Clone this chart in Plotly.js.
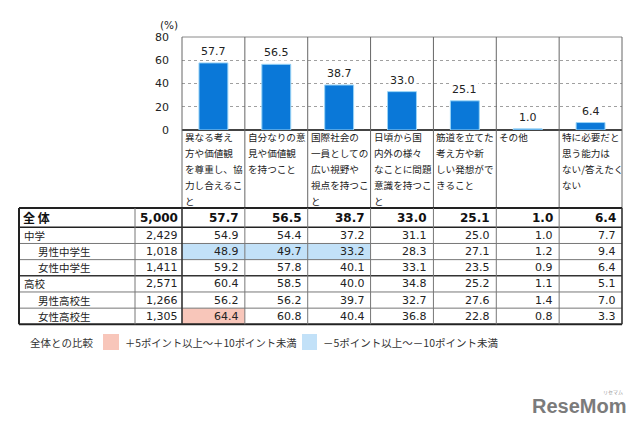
<!DOCTYPE html>
<html>
<head>
<meta charset="utf-8">
<script src="https://cdn.plot.ly/plotly-3.0.1.min.js"></script>
<style>html,body{margin:0;padding:0;background:#fff;}#chart{width:640px;height:430px;}</style>
</head>
<body>
<div id="chart"></div>
<script>
// ---------- data ----------
const categories = [
  "異なる考え方や価値観を尊重し、協力し合えること",
  "自分なりの意見や価値観を持つこと",
  "国際社会の一員としての広い視野や視点を持つこと",
  "日頃から国内外の様々なことに問題意識を持つこと",
  "筋道を立てた考え方や新しい発想ができること",
  "その他",
  "特に必要だと思う能力はない/答えたくない"
];
const categoryLines = [
  ["異なる考え", "方や価値観", "を尊重し、協", "力し合えるこ", "と"],
  ["自分なりの意", "見や価値観", "を持つこと"],
  ["国際社会の", "一員としての", "広い視野や", "視点を持つこ", "と"],
  ["日頃から国", "内外の様々", "なことに問題", "意識を持つこ", "と"],
  ["筋道を立てた", "考え方や新", "しい発想がで", "きること"],
  ["その他"],
  ["特に必要だと", "思う能力は", "ない/答えたく", "ない"]
];
const overallLabel = "全 体";
const overallN = "5,000";
const overallValues = [57.7, 56.5, 38.7, 33.0, 25.1, 1.0, 6.4];

const rowLabels = ["中学", "男性中学生", "女性中学生", "高校", "男性高校生", "女性高校生"];
const rowLevels = [1, 2, 2, 1, 2, 2];
const rowN = ["2,429", "1,018", "1,411", "2,571", "1,266", "1,305"];
const rowValues = [
  [54.9, 54.4, 37.2, 31.1, 25.0, 1.0, 7.7],
  [48.9, 49.7, 33.2, 28.3, 27.1, 1.2, 9.4],
  [59.2, 57.8, 40.1, 33.1, 23.5, 0.9, 6.4],
  [60.4, 58.5, 40.0, 34.8, 25.2, 1.1, 5.1],
  [56.2, 56.2, 39.7, 32.7, 27.6, 1.4, 7.0],
  [64.4, 60.8, 40.4, 36.8, 22.8, 0.8, 3.3]
];
const yTicks = [0, 20, 40, 60, 80];
const unitLabel = "(%)";
const legendTitle = "全体との比較";
const legendPlus = "＋5ポイント以上～＋10ポイント未満";
const legendMinus = "－5ポイント以上～－10ポイント未満";
const logoText = "ReseMom";
const logoSub = "リセマム";

// ---------- geometry ----------
const W = 640, H = 430;
const px = x => x / W;
const py = y => 1 - y / H;
const plotL = 182, plotR = 622, plotT = 37, plotB = 130;
const nCol = categories.length;
const colW = (plotR - plotL) / nCol;
const colLeft = i => plotL + i * colW;
const tableL = 19, labelR = 135, tableT = 208, headB = 227.3, rowH = 16.17;
const tableB = headB + rowH * rowLabels.length;

const JP = '"Noto Sans CJK JP", "Noto Sans", sans-serif';
const NUM = '"DejaVu Sans", "Noto Sans CJK JP", sans-serif';
const PINK = '#F8C6BA', BLUE = '#C2E1F8';

const fmt = v => v.toFixed(1);
const shapes = [];
const annotations = [];

function line(x0, y0, x1, y1, color, width, layer) {
  shapes.push({type: 'line', xref: 'paper', yref: 'paper',
    x0: px(x0), y0: py(y0), x1: px(x1), y1: py(y1),
    line: {color: color, width: width}, layer: layer || 'above'});
}
function rect(x0, y0, x1, y1, color) {
  shapes.push({type: 'rect', xref: 'paper', yref: 'paper',
    x0: px(x0), y0: py(y0), x1: px(x1), y1: py(y1),
    fillcolor: color, line: {width: 0}, layer: 'below'});
}
function text(t, x, y, anchor, font) {
  annotations.push({text: t, xref: 'paper', yref: 'paper', x: px(x), y: py(y),
    xanchor: anchor, yanchor: 'middle', showarrow: false, font: font, borderpad: 0});
}

// chart frame
line(plotL, plotT, plotR, plotT, '#8a8a8a', 1);
for (let i = 0; i <= nCol; i++) {
  line(colLeft(i), plotT, colLeft(i), tableT, '#666', 1);
}

// category labels
const lineYs = [137, 153, 169, 185, 201];
categoryLines.forEach((lines, i) => {
  lines.forEach((t, k) => {
    text(t, colLeft(i) + 2, lineYs[k], 'left', {family: JP, size: 9.6, color: '#222'});
  });
});

// bar value labels (data coords)
overallValues.forEach((v, i) => {
  annotations.push({text: fmt(v), xref: 'x', yref: 'y', x: categories[i], y: v,
    xanchor: 'center', yanchor: 'bottom', yshift: 3, showarrow: false,
    bgcolor: '#fff', borderpad: 1,
    font: {family: NUM, size: 11, color: '#222'}});
});

// unit label
text(unitLabel, 169, 25, 'center', {family: NUM, size: 10.5, color: '#222'});

// ---------- table ----------
// highlights computed from difference vs overall
rowValues.forEach((vals, r) => {
  const top = headB + r * rowH;
  vals.forEach((v, c) => {
    const d = v - overallValues[c];
    let col = null;
    if (d >= 5 && d < 10) col = PINK;
    else if (d <= -5 && d > -10) col = BLUE;
    if (col) rect(colLeft(c), top, colLeft(c + 1), top + rowH, col);
  });
});

// horizontal lines
line(tableL, tableT, plotR, tableT, '#222', 2);
line(tableL, headB, plotR, headB, '#222', 1.6);
rowLabels.forEach((_, r) => {
  if (r === 0) return;
  const y = headB + r * rowH;
  const thick = rowLevels[r] === 1;
  line(tableL, y, plotR, y, thick ? '#333' : '#777', thick ? 1.4 : 1);
});
line(tableL, tableB, plotR, tableB, '#222', 2);
// vertical lines
line(tableL, tableT, tableL, tableB, '#222', 2);
line(labelR, tableT, labelR, tableB, '#777', 1);
for (let i = 0; i <= nCol; i++) {
  const edge = (i === 0 || i === nCol);
  line(colLeft(i), tableT, colLeft(i), tableB, edge ? '#333' : '#777', edge ? 1.6 : 1);
}

// header row text
const headY = (tableT + headB) / 2;
text('<b>' + overallLabel + '</b>', 22, headY, 'left', {family: JP, size: 12, color: '#111'});
text('<b>' + overallN + '</b>', plotL - 3, headY, 'right', {family: NUM, size: 12, color: '#111'});
overallValues.forEach((v, c) => {
  text('<b>' + fmt(v) + '</b>', colLeft(c + 1) - 5, headY, 'right', {family: NUM, size: 12, color: '#111'});
});
// body rows
rowLabels.forEach((lab, r) => {
  const y = headB + (r + 0.5) * rowH;
  text(lab, rowLevels[r] === 1 ? 23 : 37, y, 'left', {family: JP, size: 10.5, color: '#222'});
  text(rowN[r], plotL - 3, y, 'right', {family: NUM, size: 11, color: '#222'});
  rowValues[r].forEach((v, c) => {
    text(fmt(v), colLeft(c + 1) - 5, y, 'right', {family: NUM, size: 11, color: '#222'});
  });
});

// ---------- legend ----------
text(legendTitle, 29, 342, 'left', {family: JP, size: 10.5, color: '#333'});
shapes.push({type: 'rect', xref: 'paper', yref: 'paper', x0: px(103), x1: px(119), y0: py(334), y1: py(350),
  fillcolor: PINK, line: {width: 0}});
text(legendPlus, 124, 342, 'left', {family: JP, size: 10.3, color: '#333'});
shapes.push({type: 'rect', xref: 'paper', yref: 'paper', x0: px(302), x1: px(317), y0: py(334), y1: py(350),
  fillcolor: BLUE, line: {width: 0}});
text(legendMinus, 322, 342, 'left', {family: JP, size: 10.5, color: '#333'});

// ---------- logo ----------
text('<b>' + logoText + '</b>', 531, 406, 'left', {family: '"Liberation Sans", Arial, sans-serif', size: 20, color: '#7b7b7b'});
text(logoSub, 613, 392, 'center', {family: JP, size: 5, color: '#999'});

// ---------- plot ----------
const trace = {
  type: 'bar', x: categories, y: overallValues,
  marker: {color: '#0A78D8', line: {color: '#9AD4F6', width: 1}},
  hoverinfo: 'skip'
};
const layout = {
  width: W, height: H,
  margin: {l: 0, r: 0, t: 0, b: 0},
  paper_bgcolor: '#fff', plot_bgcolor: '#fff',
  showlegend: false,
  bargap: 0.54,
  xaxis: {domain: [px(plotL), px(plotR)], type: 'category', range: [-0.5, nCol - 0.5],
    showticklabels: false, showline: false, showgrid: false, zeroline: false, fixedrange: true},
  yaxis: {domain: [py(plotB), py(plotT)], range: [0, 80], tickvals: yTicks,
    ticktext: yTicks.map(String), ticks: '', ticklabelstandoff: 12,
    tickfont: {family: NUM, size: 11, color: '#222'},
    showgrid: true, gridcolor: '#a0a0a0', griddash: 'dot', gridwidth: 1,
    zeroline: true, zerolinecolor: '#444', zerolinewidth: 2,
    showline: false, fixedrange: true},
  shapes: shapes,
  annotations: annotations
};
Plotly.newPlot('chart', [trace], layout, {staticPlot: true, displayModeBar: false});
</script>
</body>
</html>
